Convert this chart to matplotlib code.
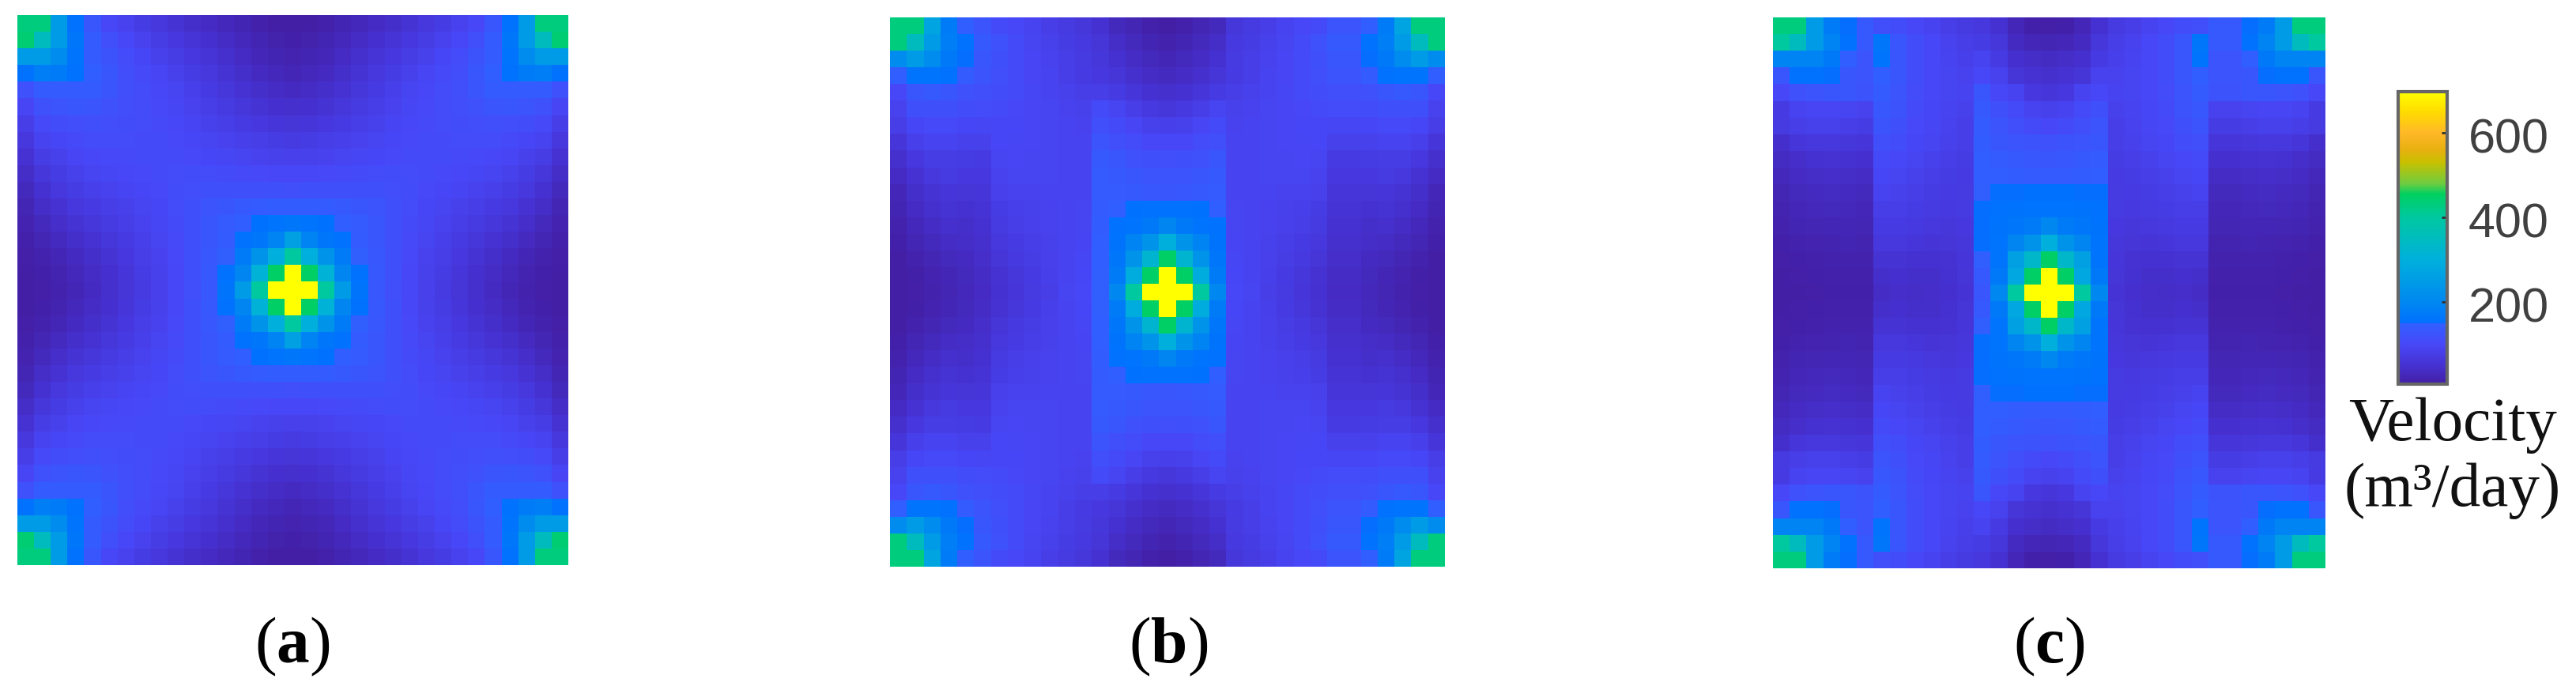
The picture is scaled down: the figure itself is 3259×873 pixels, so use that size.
import matplotlib.pyplot as plt
import numpy as np
from matplotlib.colors import LinearSegmentedColormap, Normalize
from matplotlib.transforms import ScaledTranslation

# --- Data: top-left quarter of each panel (17 x 17 cells, m3/day) ---
panel_a = [
    [430, 430, 250, 155, 130, 100, 88, 75, 64, 54, 44, 36, 28, 20, 12, 7, 5],
    [440, 350, 250, 165, 140, 115, 100, 88, 76, 66, 56, 48, 38, 28, 20, 13, 10],
    [250, 250, 210, 160, 140, 122, 108, 98, 86, 76, 66, 56, 46, 36, 26, 20, 16],
    [155, 180, 175, 155, 145, 128, 114, 104, 95, 85, 74, 64, 54, 44, 34, 28, 24],
    [120, 140, 140, 140, 140, 126, 116, 108, 100, 92, 82, 72, 62, 52, 44, 38, 34],
    [95, 120, 124, 128, 126, 120, 114, 108, 102, 96, 88, 80, 70, 62, 54, 48, 46],
    [78, 104, 110, 114, 116, 114, 112, 108, 104, 100, 94, 86, 78, 72, 66, 60, 58],
    [64, 90, 98, 104, 108, 108, 108, 106, 106, 102, 98, 92, 88, 82, 78, 74, 70],
    [52, 76, 86, 95, 100, 102, 104, 106, 106, 106, 102, 98, 96, 92, 88, 86, 84],
    [40, 62, 74, 85, 92, 96, 100, 102, 106, 108, 110, 108, 106, 104, 102, 100, 100],
    [30, 50, 64, 74, 82, 88, 94, 98, 102, 110, 114, 118, 118, 118, 118, 118, 116],
    [22, 40, 52, 64, 72, 80, 86, 92, 98, 108, 118, 125, 130, 136, 140, 142, 142],
    [16, 30, 42, 54, 62, 70, 78, 88, 96, 106, 118, 130, 138, 145, 152, 160, 165],
    [11, 22, 32, 44, 52, 62, 72, 82, 92, 104, 118, 130, 140, 155, 165, 190, 260],
    [8, 15, 24, 34, 44, 54, 66, 78, 88, 102, 118, 132, 148, 175, 230, 300, 400],
    [6, 10, 18, 28, 38, 48, 60, 74, 86, 100, 118, 134, 155, 195, 310, 450, 697],
    [5, 8, 15, 24, 34, 46, 58, 70, 84, 100, 116, 132, 162, 250, 400, 697, 697],
]
panel_b = [
    [430, 430, 270, 175, 145, 125, 105, 100, 90, 80, 70, 62, 50, 30, 22, 12, 6],
    [430, 350, 250, 180, 155, 135, 120, 105, 92, 85, 75, 68, 58, 40, 30, 20, 14],
    [210, 250, 210, 170, 150, 130, 118, 105, 95, 88, 78, 70, 62, 50, 38, 30, 24],
    [145, 160, 160, 155, 140, 125, 115, 105, 95, 90, 80, 72, 66, 58, 46, 38, 32],
    [100, 130, 135, 130, 120, 115, 110, 105, 96, 90, 85, 80, 78, 72, 60, 50, 46],
    [88, 118, 118, 118, 110, 108, 105, 100, 95, 92, 88, 85, 105, 92, 78, 68, 62],
    [78, 98, 104, 104, 98, 96, 98, 98, 95, 92, 90, 88, 115, 105, 95, 85, 82],
    [60, 82, 90, 90, 86, 86, 98, 96, 95, 92, 90, 90, 125, 115, 108, 100, 100],
    [46, 66, 76, 76, 74, 72, 92, 95, 93, 92, 90, 90, 135, 128, 120, 118, 116],
    [36, 52, 64, 70, 66, 66, 88, 92, 92, 92, 90, 90, 138, 135, 128, 125, 125],
    [26, 44, 54, 60, 58, 60, 84, 88, 88, 90, 90, 90, 138, 138, 135, 132, 130],
    [20, 36, 46, 54, 50, 55, 75, 82, 85, 88, 90, 92, 140, 145, 152, 155, 155],
    [14, 28, 38, 46, 44, 50, 70, 78, 84, 88, 90, 92, 142, 155, 160, 170, 195],
    [10, 22, 30, 38, 40, 46, 64, 72, 80, 86, 90, 94, 145, 158, 190, 230, 300],
    [7, 14, 22, 30, 34, 42, 58, 68, 76, 84, 90, 96, 145, 165, 230, 320, 450],
    [5, 9, 16, 24, 30, 38, 52, 62, 72, 82, 90, 98, 148, 175, 290, 450, 697],
    [4, 8, 14, 22, 28, 36, 50, 60, 70, 80, 92, 100, 148, 200, 400, 697, 697],
]
panel_c = [
    [430, 430, 250, 175, 150, 135, 115, 110, 100, 90, 80, 70, 65, 50, 25, 10, 8],
    [400, 350, 250, 190, 155, 135, 165, 130, 110, 100, 88, 78, 75, 62, 34, 25, 22],
    [190, 190, 190, 170, 145, 125, 160, 130, 110, 100, 90, 82, 90, 72, 48, 40, 35],
    [130, 155, 155, 150, 130, 125, 146, 128, 110, 100, 92, 88, 100, 88, 58, 52, 46],
    [100, 120, 125, 130, 130, 122, 140, 125, 108, 100, 92, 90, 128, 100, 90, 66, 60],
    [72, 90, 95, 95, 92, 88, 132, 122, 105, 98, 90, 85, 135, 118, 105, 90, 85],
    [70, 80, 85, 85, 80, 75, 125, 118, 102, 96, 88, 80, 140, 125, 115, 105, 100],
    [45, 60, 65, 65, 62, 60, 115, 110, 98, 92, 85, 78, 142, 130, 125, 122, 120],
    [35, 42, 50, 52, 50, 48, 105, 100, 92, 85, 80, 75, 145, 140, 135, 132, 130],
    [28, 36, 40, 42, 40, 38, 98, 92, 85, 78, 75, 72, 146, 145, 142, 140, 140],
    [22, 30, 32, 35, 34, 30, 90, 85, 80, 75, 72, 70, 148, 150, 150, 151, 152],
    [18, 25, 28, 30, 28, 25, 80, 78, 74, 70, 68, 70, 150, 155, 158, 160, 160],
    [14, 20, 22, 24, 24, 22, 72, 72, 68, 64, 62, 66, 150, 158, 165, 175, 200],
    [10, 15, 16, 18, 20, 18, 64, 64, 60, 56, 58, 62, 150, 160, 195, 230, 300],
    [8, 10, 12, 14, 14, 14, 54, 54, 50, 50, 52, 60, 148, 160, 260, 330, 450],
    [6, 8, 10, 12, 12, 12, 44, 48, 44, 44, 50, 58, 135, 170, 280, 450, 697],
    [5, 6, 8, 10, 10, 10, 38, 42, 40, 42, 48, 55, 130, 200, 400, 697, 697],
]
panel_labels = ['a', 'b', 'c']
cbar_ticks = [200, 400, 600]
cbar_title = ['Velocity', '(m³/day)']

# --- Colour scale ---
v_min, v_max = 5, 697
stops = [
    (5, '#431FA5'), (50, '#4632D2'), (100, '#4848F8'), (148, '#3060FF'),
    (150, '#0070FF'), (200, '#0088F0'), (300, '#00B0DC'), (400, '#00C8A0'),
    (455, '#00D060'), (480, '#70CC40'), (530, '#C8C000'), (560, '#E8B010'),
    (600, '#FFB828'), (650, '#FFDC00'), (697, '#FFFF00'),
]
cmap = LinearSegmentedColormap.from_list(
    'velocity', [((v - v_min) / (v_max - v_min), c) for v, c in stops], N=1024)
norm = Normalize(v_min, v_max)

plt.rcParams['mathtext.fontset'] = 'custom'
plt.rcParams['mathtext.rm'] = 'Liberation Serif'
plt.rcParams['mathtext.bf'] = 'Liberation Serif:bold'

W, H = 3259, 873
fig = plt.figure(figsize=(W / 100, H / 100), dpi=100)


def axes_px(x0, y0, x1, y1):
    # pixel box of the reference, y counted from the top
    return fig.add_axes([x0 / W, 1 - y1 / H, (x1 - x0) / W, (y1 - y0) / H])


def full_grid(quarter, shifted):
    q = np.array(quarter, dtype=float)
    top = np.hstack([q, q[:, -2::-1]])
    grid = np.vstack([top, top[-2::-1]])
    if shifted:
        # right hand bands sit one cell closer to the centre than the left ones
        grid[:, 20:27] = grid[:, 21:28].copy()
    return grid


boxes = [(22, 19, 719, 715), (1126, 22, 1828, 717), (2243, 22, 2942, 719)]
centres = [370, 1478, 2592]
for quarter, box, cx, lab, shifted in zip([panel_a, panel_b, panel_c], boxes, centres,
                                          panel_labels, [False, True, True]):
    ax = axes_px(*box)
    im = ax.imshow(full_grid(quarter, shifted), cmap=cmap, norm=norm, aspect='auto',
                   interpolation='nearest')
    ax.axis('off')
    fig.text(cx / W, 1 - 838 / H, r'$(\mathbf{%s})$' % lab, fontsize=60,
             ha='center', va='baseline', color='black')

# --- Colour bar ---
cax = axes_px(3034, 116, 3096, 486)
cb = fig.colorbar(im, cax=cax)
cb.set_ticks(cbar_ticks)
cb.ax.tick_params(direction='in', length=5, width=2, color='#303030', pad=19,
                  labelsize=44, labelcolor='#404040')
offset = ScaledTranslation(0, -4 / 100, fig.dpi_scale_trans)
for t in cb.ax.get_yticklabels():
    t.set_family('Liberation Sans')
    t.set_transform(t.get_transform() + offset)
cb.outline.set_edgecolor('#666666')
cb.outline.set_linewidth(3)

fig.text(3103 / W, 1 - 557 / H, cbar_title[0], family='Liberation Serif', fontsize=57,
         ha='center', va='baseline', color='#111111')
fig.text(3103 / W, 1 - 640 / H, cbar_title[1], family='Liberation Serif', fontsize=57,
         ha='center', va='baseline', color='#111111')

fig.savefig('out.png', dpi=100)
